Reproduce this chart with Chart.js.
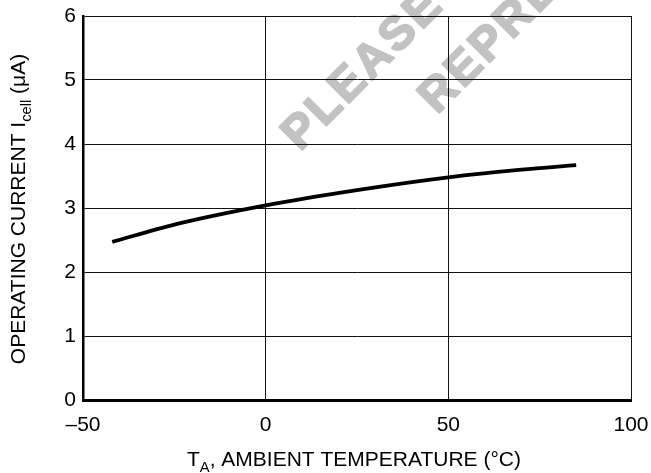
<!doctype html>
<html lang="">

<head>
  <meta charset="utf-8">
  <title>operating current</title>
  <style>
    body { margin: 0; background: #fff; }
    #chart { display: block; }
  </style>
</head>

<body>
  <canvas id="chart" width="651" height="473"></canvas>

  <script src="https://cdn.jsdelivr.net/npm/chart.js@4/dist/chart.umd.min.js"></script>
  <script>

  // values
  const temps = [-42, -25, 0, 25, 50, 70, 85];
  const current = [2.47, 2.74, 3.04, 3.28, 3.48, 3.60, 3.67];
  const xTicks = [-50, 0, 50, 100];
  const yTicks = [0, 1, 2, 3, 4, 5, 6];
  const watermark = ['PLEASE', 'REPRESENTATIVE'];

  const FONT = '"Liberation Sans", Arial, Helvetica, sans-serif';

  // draw text made of [string, isSubscript] pieces, centred on 0
  function drawPieces(ctx, pieces, size) {
    let widths = pieces.map(p => {
      ctx.font = (p[1] ? size * 0.7 : size) + 'px ' + FONT;
      return ctx.measureText(p[0]).width;
    });
    let total = widths.reduce((a, b) => a + b, 0);
    let x = -total / 2;
    pieces.forEach((p, i) => {
      ctx.font = (p[1] ? size * 0.7 : size) + 'px ' + FONT;
      ctx.fillText(p[0], x, p[1] ? size * 0.3 : 0);
      x += widths[i];
    });
  }

  const decorations = {
    id: 'decorations',
    beforeDraw(chart) {
      let ctx = chart.ctx;
      ctx.save();
      ctx.fillStyle = '#c2c2c2';
      ctx.strokeStyle = '#c2c2c2';
      ctx.lineWidth = 2;
      ctx.lineJoin = 'round';
      ctx.font = 'bold 47px ' + FONT;
      ctx.letterSpacing = '3px';
      ctx.textBaseline = 'alphabetic';
      [[300, 152], [437, 115]].forEach((pos, i) => {
        ctx.save();
        ctx.translate(pos[0], pos[1]);
        ctx.rotate(-Math.PI / 4);
        ctx.fillText(watermark[i], 0, 0);
        ctx.strokeText(watermark[i], 0, 0);
        ctx.restore();
      });
      ctx.restore();
    },
    afterDraw(chart) {
      let ctx = chart.ctx;
      ctx.save();
      ctx.fillStyle = '#000';
      ctx.textAlign = 'left';
      ctx.textBaseline = 'alphabetic';

      ctx.save();
      ctx.translate(354, 466);
      drawPieces(ctx, [['T', false], ['A', true], [', AMBIENT TEMPERATURE (\u00B0C)', false]], 21);
      ctx.restore();

      ctx.save();
      ctx.translate(25, 209);
      ctx.rotate(-Math.PI / 2);
      drawPieces(ctx, [['OPERATING CURRENT I', false], ['cell', true], [' (\u03BCA)', false]], 21);
      ctx.restore();

      ctx.restore();
    }
  };

  function plot(canvas) {
    let ctx = canvas.getContext('2d');

    new Chart(ctx, {
      type: 'line',
      data: {
        datasets: [{
          data: temps.map((t, i) => ({x: t, y: current[i]})),
          borderColor: '#000',
          borderWidth: 3.8,
          pointRadius: 0,
          cubicInterpolationMode: 'monotone',
          fill: false
        }]
      },
      options: {
        responsive: false,
        animation: false,
        layout: { padding: { left: 0, right: 20, top: 16, bottom: 0 } },
        plugins: {
          legend: { display: false },
          tooltip: { enabled: false }
        },
        scales: {
          x: {
            type: 'linear',
            min: xTicks[0],
            max: xTicks[xTicks.length - 1],
            afterBuildTicks: s => { s.ticks = xTicks.map(v => ({value: v})); },
            afterFit: s => { s.height = 73; s.paddingLeft = 0; s.paddingRight = 0; },
            border: { display: true, color: '#000', width: 3 },
            grid: { color: '#111', lineWidth: 1, drawTicks: false },
            ticks: {
              color: '#000',
              font: { family: FONT, size: 21 },
              padding: 13,
              maxRotation: 0,
              callback: v => v < 0 ? '\u2013' + Math.abs(v) : String(v)
            }
          },
          y: {
            min: yTicks[0],
            max: yTicks[yTicks.length - 1],
            afterBuildTicks: s => { s.ticks = yTicks.map(v => ({value: v})); },
            afterFit: s => { s.width = 83; s.paddingTop = 0; s.paddingBottom = 0; },
            border: { display: true, color: '#000', width: 2.5 },
            grid: { color: '#111', lineWidth: 1, drawTicks: false },
            ticks: {
              color: '#000',
              font: { family: FONT, size: 21 },
              padding: 7
            }
          }
        }
      },
      plugins: [decorations]
    });
  }

  plot(document.getElementById('chart'));
  </script>

</body>
</html>
